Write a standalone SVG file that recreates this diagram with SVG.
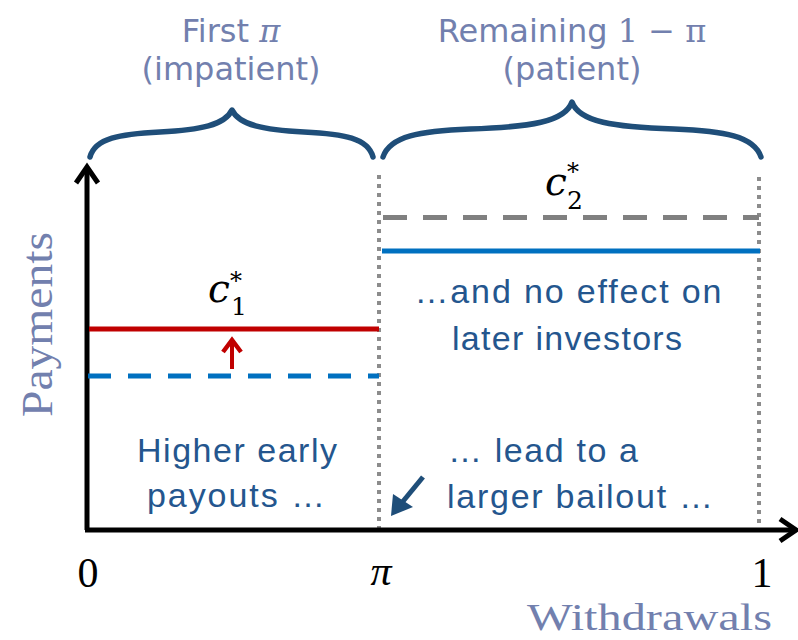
<svg xmlns="http://www.w3.org/2000/svg" width="798" height="640" viewBox="0 0 798 640">
<defs>
<style>
.hdr{font-family:"DejaVu Sans",Verdana,sans-serif;font-size:32px;fill:#7280AE;text-anchor:middle}
.math{font-family:"DejaVu Serif",serif}
.body{font-family:"Liberation Sans",Arial,sans-serif;font-size:34px;fill:#24568E}
.ax{font-family:"Liberation Serif","Times New Roman",serif;font-size:42px;fill:#000;text-anchor:middle}
.axl{font-family:"Liberation Serif","Times New Roman",serif;fill:#7280AE}
.brace{fill:none;stroke:#1F4E79;stroke-width:5.5;stroke-linecap:round;stroke-linejoin:round}
.dot{stroke:#8C8C8C;stroke-width:4;stroke-dasharray:4 5;fill:none}
.axis{stroke:#000;stroke-width:5;fill:none}
.ci{font-family:"DejaVu Serif",serif;font-style:italic;font-size:39px;fill:#000}
.cs{font-family:"DejaVu Serif",serif;font-size:25px;fill:#000}
.st{font-family:"DejaVu Serif",serif;font-size:24px;fill:#000}
</style>
</defs>
<rect width="798" height="640" fill="#fff"/>

<g id="header-impatient">
<text class="hdr" x="231" y="42">First <tspan class="math" font-style="italic">π</tspan></text>
<text class="hdr" x="231" y="80">(impatient)</text>
</g>
<g id="header-patient">
<text class="hdr" x="572" y="42">Remaining <tspan class="math">1 − π</tspan></text>
<text class="hdr" x="572" y="80">(patient)</text>
</g>

<g id="brace-left">
<path class="brace" d="M90 157 C95 138,120 134,160 132 C200 130,225 125,232 110 C239 125,264 130,304 132 C344 134,368 138,373 157"/>
</g>
<g id="brace-right">
<path class="brace" d="M383 157 C390 136,420 131,470 129 C530 127,565 122,572 102 C579 122,614 127,674 129 C724 131,754 136,761 157"/>
</g>

<g id="guides">
<line class="dot" x1="379" y1="175" x2="379" y2="528"/>
<line class="dot" x1="759" y1="177" x2="759" y2="528"/>
</g>

<g id="axes">
<line class="axis" x1="87" y1="167" x2="87" y2="530"/>
<polyline class="axis" points="76,183 87,167 98,183" stroke-width="4.5"/>
<line class="axis" x1="85" y1="530" x2="795" y2="530"/>
<polyline class="axis" points="780,519 796,530 780,541" stroke-width="4.5"/>
</g>

<g id="levels">
<line x1="383" y1="217.5" x2="759" y2="217.5" stroke="#808080" stroke-width="5" stroke-dasharray="24 16"/>
<line x1="382" y1="251" x2="760" y2="251" stroke="#0070C0" stroke-width="5"/>
<line x1="89" y1="329" x2="379" y2="329" stroke="#C00000" stroke-width="5"/>
<line x1="88" y1="376" x2="379" y2="376" stroke="#0070C0" stroke-width="5" stroke-dasharray="23 17"/>
</g>

<g id="connectors">
<g id="arrow-up">
<line x1="232" y1="369" x2="232" y2="343" stroke="#C00000" stroke-width="4"/>
<polyline points="223,352 232,340 241,352" fill="none" stroke="#C00000" stroke-width="4.5" stroke-linejoin="miter"/>
</g>
<g id="arrow-bailout">
<line x1="423" y1="477" x2="400" y2="505" stroke="#1F4E79" stroke-width="5"/>
<polygon points="391,516 393,494 413,507" fill="#1F4E79"/>
</g>
</g>

<g id="label-c1">
<text class="ci" x="208" y="302">c</text>
<text class="cs" x="231" y="315">1</text>
<text class="st" x="230" y="289">*</text>
</g>
<g id="label-c2">
<text class="ci" x="545" y="195">c</text>
<text class="cs" x="567" y="209">2</text>
<text class="st" x="567" y="180">*</text>
</g>

<g id="text-noeffect">
<text class="body" x="568" y="303" text-anchor="middle" textLength="307" lengthAdjust="spacing">…and no effect on</text>
<text class="body" x="567" y="350" text-anchor="middle" textLength="230" lengthAdjust="spacing">later investors</text>
</g>
<g id="text-higher">
<text class="body" x="137" y="462" textLength="200" lengthAdjust="spacing">Higher early</text>
<text class="body" x="147" y="507" textLength="178" lengthAdjust="spacing">payouts …</text>
</g>
<g id="text-bailout">
<text class="body" x="448" y="462" textLength="190" lengthAdjust="spacing">… lead to a</text>
<text class="body" x="447" y="508" textLength="266" lengthAdjust="spacing">larger bailout …</text>
</g>

<g id="axis-labels">
<text class="ax" x="88" y="587">0</text>
<text class="ax" x="381" y="585" font-style="italic">π</text>
<text class="ax" x="762" y="587">1</text>
<text class="axl" x="527" y="630" font-size="38" textLength="245" lengthAdjust="spacingAndGlyphs">Withdrawals</text>
<text class="axl" x="0" y="0" font-size="45" text-anchor="middle" textLength="185" lengthAdjust="spacingAndGlyphs" transform="translate(52,324.5) rotate(-90)">Payments</text>
</g>
</svg>
